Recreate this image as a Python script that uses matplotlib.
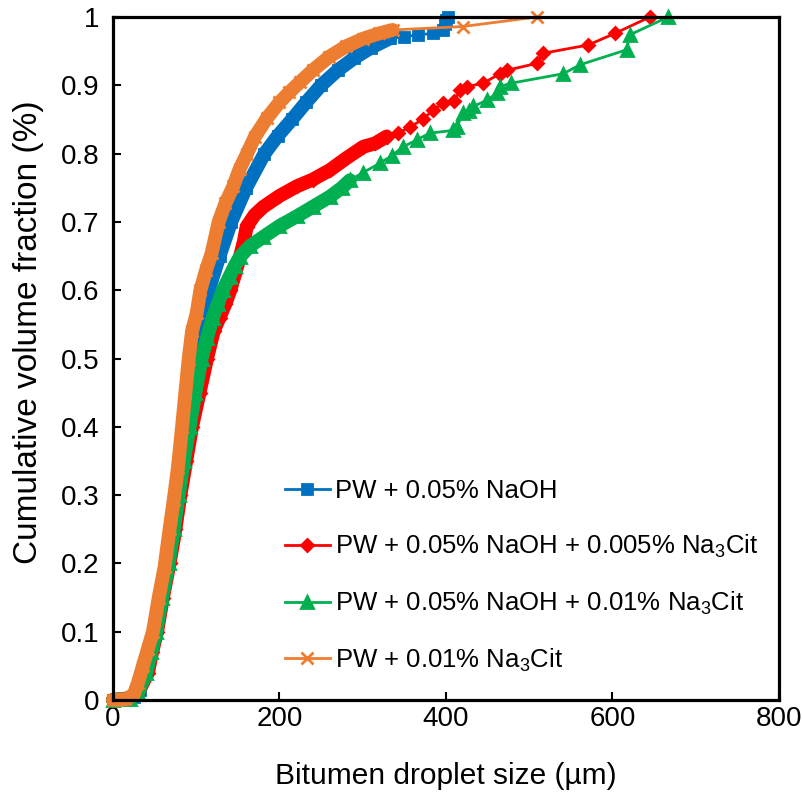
import matplotlib.pyplot as plt

plt.rcParams['font.family'] = ['Liberation Sans', 'DejaVu Sans']
plt.rcParams['mathtext.default'] = 'regular'

# PW + 0.05% NaOH
naoh_x = [0, 15, 25, 32, 40, 46, 52, 59, 66, 72, 77, 82, 87, 92, 97, 106, 115, 128,
          142, 160, 182, 198, 215, 232, 250, 270, 290, 310, 333, 350, 366, 385, 397,
          399, 400, 402]
naoh_y = [0, 0.002, 0.005, 0.015, 0.04, 0.07, 0.1, 0.15, 0.2, 0.25, 0.3, 0.35, 0.4,
          0.45, 0.5, 0.56, 0.6, 0.65, 0.7, 0.75, 0.8, 0.826, 0.85, 0.875, 0.9, 0.922,
          0.94, 0.955, 0.969, 0.971, 0.974, 0.976, 0.981, 0.99, 0.995, 1.0]

# PW + 0.05% NaOH + 0.005% Na3Cit
cit005_x = [0, 20, 30, 42, 47, 53, 60, 68, 75, 81, 88, 95, 104, 113, 121, 128, 135,
            141, 147, 152.5, 157, 160.6, 170, 180.6, 200, 220.6, 240, 260.7, 280,
            300.7, 315, 328.7, 343, 356.8, 372, 384.8, 396.8, 410, 417, 425, 444.8,
            464.9, 473, 509, 517, 571, 603, 645]
cit005_y = [0, 0.002, 0.01, 0.04, 0.07, 0.1, 0.15, 0.2, 0.25, 0.3, 0.35, 0.4, 0.45,
            0.5, 0.54, 0.56, 0.58, 0.6, 0.625, 0.649, 0.67, 0.693, 0.71, 0.722, 0.738,
            0.752, 0.762, 0.776, 0.793, 0.81, 0.815, 0.825, 0.83, 0.839, 0.85, 0.864,
            0.874, 0.877, 0.893, 0.898, 0.903, 0.917, 0.922, 0.932, 0.947, 0.959,
            0.976, 1.0]

# PW + 0.05% NaOH + 0.01% Na3Cit
cit01_x = [0, 20, 30, 40, 46, 52, 59, 67, 73, 79, 85, 92, 99, 106.5, 113, 120, 126,
           132, 140, 146, 152.5, 165, 180.6, 200, 220.6, 240, 260.7, 275, 284.7, 300,
           320.7, 335, 348.7, 364.8, 380.8, 408.8, 412.8, 420.8, 428, 432.8, 448.9,
           460.9, 465, 478, 541, 561, 617, 621, 667]
cit01_y = [0, 0.002, 0.01, 0.04, 0.07, 0.1, 0.15, 0.2, 0.25, 0.3, 0.35, 0.4, 0.45,
           0.5, 0.53, 0.56, 0.58, 0.6, 0.62, 0.635, 0.649, 0.665, 0.678, 0.694, 0.708,
           0.722, 0.737, 0.75, 0.761, 0.772, 0.786, 0.797, 0.81, 0.82, 0.83, 0.834,
           0.839, 0.859, 0.862, 0.869, 0.878, 0.888, 0.898, 0.903, 0.917, 0.93, 0.952,
           0.974, 1.0]

# PW + 0.01% Na3Cit
cit_x = [0, 15, 25, 30, 36, 42, 48, 55, 62, 68, 73, 78, 83, 87, 91, 95, 100.5, 105,
         112, 118.5, 127, 135, 144.5, 152, 161, 170.6, 185, 200, 212, 225, 240, 260,
         280, 300, 320, 336, 420, 509]
cit_y = [0, 0.001, 0.008, 0.025, 0.05, 0.075, 0.1, 0.15, 0.195, 0.25, 0.293, 0.34,
         0.4, 0.45, 0.5, 0.54, 0.566, 0.6, 0.63, 0.654, 0.7, 0.727, 0.752, 0.777, 0.8,
         0.825, 0.852, 0.875, 0.89, 0.905, 0.922, 0.942, 0.957, 0.968, 0.976, 0.981,
         0.986, 1.0]

labels = ['PW + 0.05% NaOH',
          'PW + 0.05% NaOH + 0.005% Na$_3$Cit',
          'PW + 0.05% NaOH + 0.01% Na$_3$Cit',
          'PW + 0.01% Na$_3$Cit']

x_ticks = [0, 200, 400, 600, 800]
y_ticks = [0, 0.1, 0.2, 0.3, 0.4, 0.5, 0.6, 0.7, 0.8, 0.9, 1.0]
y_tick_labels = ['0', '0.1', '0.2', '0.3', '0.4', '0.5', '0.6', '0.7', '0.8', '0.9', '1']

fig = plt.figure(figsize=(8.03, 7.98), dpi=100)
ax = fig.add_axes([0.1407, 0.1228, 0.8293, 0.8559])

# (x, y, colour, marker, marker size, end of the dense part)
series = [
    (naoh_x, naoh_y, '#0070C0', 's', 7, 333),
    (cit005_x, cit005_y, '#FF0000', 'D', 6.5, 330),
    (cit01_x, cit01_y, '#00B050', '^', 8, 285),
    (cit_x, cit_y, '#ED7D31', 'x', 8, 336),
]

handles = []
for (xs, ys, color, marker, ms, cut), label in zip(series, labels):
    dx = [x for x in xs if x <= cut]
    dy = ys[:len(dx)]
    ax.plot(dx, dy, color=color, lw=10, solid_capstyle='round',
            solid_joinstyle='round', clip_on=False)
    h, = ax.plot(xs, ys, color=color, lw=2, marker=marker, ms=ms, mew=2,
                 clip_on=False, label=label)
    handles.append(h)

ax.set_xlim(0, 800)
ax.set_ylim(0, 1)
ax.set_xticks(x_ticks)
ax.set_yticks(y_ticks)
ax.set_yticklabels(y_tick_labels)
ax.tick_params(direction='in', length=6, width=1.5, labelsize=20)
ax.tick_params(axis='y', pad=10)
ax.tick_params(axis='x', pad=4)

for s in ax.spines.values():
    s.set_linewidth(2.3)
    s.set_zorder(5)

ax.set_xlabel('Bitumen droplet size (µm)', fontsize=21.5, labelpad=22)
ax.set_ylabel('Cumulative volume fraction (%)', fontsize=24)
ax.yaxis.set_label_coords(-0.104, 0.539)

ax.legend(handles=handles, loc='center left', bbox_to_anchor=(0.239, 0.181),
          frameon=False, fontsize=18.5, handlelength=1.75, handletextpad=0.2,
          labelspacing=1.15, borderpad=0)

fig.savefig('out.png', dpi=100)
